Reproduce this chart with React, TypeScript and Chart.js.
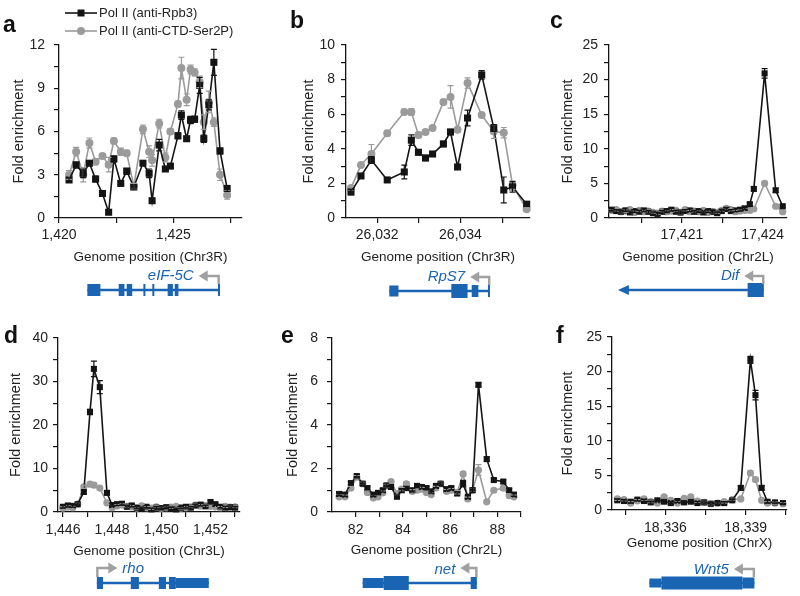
import React, { useEffect, useRef } from 'react';
import { Chart, registerables } from 'chart.js';
Chart.register(...registerables);

const FONT = '"Liberation Sans", Arial, Helvetica, sans-serif';
const BLACK = '#141414';
const GRAY = '#9b9b9b';
const BLUE = '#1a64b4';
const ARROW = '#a0a0a0';

// ---------- panel a (eIF-5C, Chr3R) ----------
const A_POS = [1420.44, 1420.75, 1421.06, 1421.33, 1421.6, 1421.9, 1422.17, 1422.4, 1422.7, 1422.96, 1423.27, 1423.67, 1423.94, 1424.07, 1424.38, 1424.65, 1424.87, 1425.2, 1425.35, 1425.58, 1425.75, 1425.93, 1426.15, 1426.33, 1426.55, 1426.77, 1427.04, 1427.35];
const A_RPB3 = [2.64, 3.68, 3.1, 3.8, 2.7, 1.7, 0.4, 4.1, 2.4, 3.25, 2.15, 3.8, 3.1, 1.2, 5.06, 3.4, 3.6, 5.7, 7.14, 5.5, 6.8, 6.85, 9.2, 5.5, 7.85, 10.8, 4.65, 2.05];
const A_SER2P = [2.98, 4.6, 3.0, 5.2, 3.9, 4.3, 3.7, 5.34, 4.6, 4.5, 2.2, 6.15, 4.6, 4.0, 6.55, 4.2, 6.0, 7.9, 10.4, 8.2, 10.3, 10.1, 9.45, 6.65, 8.05, 6.65, 3.0, 1.6];
const A_RPB3_ERR = [0.15, 0.2, 0.3, 0.15, 0.2, 0.15, 0.1, 0.2, 0.15, 0.2, 0.15, 0.15, 0.3, 0.1, 0.4, 0.15, 0.15, 0.2, 0.3, 0.15, 0.25, 0.2, 0.55, 0.25, 0.35, 0.9, 0.2, 0.2];
const A_SER2P_ERR = [0.3, 0.3, 0.5, 0.35, 0.2, 0.15, 0.5, 0.2, 0.25, 0.2, 0.2, 0.3, 0.4, 0.4, 0.3, 0.3, 0.2, 0.2, 0.75, 0.4, 0.3, 0.25, 0.4, 0.5, 0.75, 0.3, 0.4, 0.3];
const A_XTICKS = [1420, 1422.5, 1425, 1427.5];
const A_XLABELS = [1420, 1425];
const A_YTICKS = [0, 1.5, 3, 4.5, 6, 7.5, 9, 10.5, 12];
const A_YLABELS = [0, 3, 6, 9, 12];
const A_EXONS = [[1421.24, 1421.81, 12], [1422.61, 1422.86, 12], [1422.96, 1423.2, 12], [1423.69, 1423.77, 12], [1424.08, 1424.15, 12], [1424.75, 1424.98, 12], [1425.06, 1425.22, 12], [1426.95, 1427.0, 12]];

// ---------- panel b (RpS7, Chr3R) ----------
const B_POS = [26031.37, 26031.61, 26031.86, 26032.24, 26032.65, 26032.82, 26032.99, 26033.16, 26033.33, 26033.59, 26033.76, 26033.93, 26034.17, 26034.51, 26034.8, 26035.04, 26035.25, 26035.59];
const B_RPB3 = [1.5, 2.43, 3.35, 2.2, 2.66, 4.5, 3.8, 3.47, 3.7, 4.28, 4.97, 2.95, 5.78, 8.27, 5.2, 1.62, 1.8, 0.8];
const B_SER2P = [1.73, 3.06, 3.7, 4.9, 6.13, 6.13, 4.8, 4.97, 5.2, 6.7, 7.0, 5.1, 7.8, 5.95, 5.0, 4.93, 1.9, 0.5];
const B_RPB3_ERR = [0.15, 0.1, 0.2, 0.1, 0.4, 0.3, 0.15, 0.15, 0.1, 0.15, 0.15, 0.1, 0.45, 0.25, 0.2, 0.75, 0.3, 0.1];
const B_SER2P_ERR = [0.1, 0.1, 0.55, 0.15, 0.15, 0.2, 0.15, 0.1, 0.1, 0.15, 0.65, 0.15, 0.3, 0.1, 0.4, 0.3, 0.25, 0.1];
const B_XTICKS = [26032, 26033, 26034, 26035];
const B_XLABELS = [26032, 26034];
const B_YTICKS = [0, 1, 2, 3, 4, 5, 6, 7, 8, 9, 10];
const B_YLABELS = [0, 2, 4, 6, 8, 10];
const B_EXONS = [[26032.29, 26032.51, 11], [26033.78, 26034.17, 14], [26034.27, 26034.43, 12], [26034.66, 26034.7, 12]];

// ---------- panel c (Dif, Chr2L) ----------
const C_POS = [17418.4, 17418.57, 17418.74, 17418.91, 17419.08, 17419.25, 17419.42, 17419.59, 17419.76, 17419.93, 17420.1, 17420.27, 17420.44, 17420.61, 17420.78, 17420.95, 17421.12, 17421.29, 17421.46, 17421.63, 17421.8, 17421.97, 17422.14, 17422.31, 17422.48, 17422.65, 17422.82, 17422.99, 17423.16, 17423.33, 17423.52, 17423.67, 17424.07, 17424.48, 17424.74];
const C_RPB3 = [1.2, 1.0, 0.9, 1.1, 0.8, 1.0, 0.9, 1.1, 0.9, 0.7, 0.6, 0.9, 1.0, 1.2, 0.9, 0.8, 1.0, 1.1, 0.9, 1.0, 0.8, 1.0, 0.9, 0.7, 1.0, 1.3, 1.0, 1.1, 1.2, 1.4, 2.0, 4.2, 20.9, 4.0, 1.7];
const C_SER2P = [1.1, 1.2, 0.9, 1.0, 1.2, 0.8, 1.1, 0.9, 1.0, 0.8, 0.7, 1.0, 0.9, 1.0, 1.1, 0.8, 1.2, 0.9, 1.0, 0.9, 1.1, 0.8, 0.9, 0.8, 1.1, 1.4, 1.2, 0.9, 1.0, 1.1, 1.1, 1.3, 5.0, 1.7, 0.9];
const C_RPB3_ERR = [0.2, 0.2, 0.2, 0.2, 0.2, 0.2, 0.2, 0.2, 0.2, 0.2, 0.2, 0.2, 0.2, 0.2, 0.2, 0.2, 0.2, 0.2, 0.2, 0.2, 0.2, 0.2, 0.2, 0.2, 0.2, 0.2, 0.2, 0.2, 0.2, 0.2, 0.2, 0.3, 0.7, 0.3, 0.2];
const C_SER2P_ERR = [0.2, 0.2, 0.2, 0.2, 0.2, 0.2, 0.2, 0.2, 0.2, 0.2, 0.2, 0.2, 0.2, 0.2, 0.2, 0.2, 0.2, 0.2, 0.2, 0.2, 0.2, 0.2, 0.2, 0.2, 0.2, 0.2, 0.2, 0.2, 0.2, 0.2, 0.2, 0.2, 0.3, 0.2, 0.2];
const C_XTICKS = [17419.5, 17421, 17422.5, 17424];
const C_XLABELS = [17421, 17424];
const C_YTICKS = [0, 2.5, 5, 7.5, 10, 12.5, 15, 17.5, 20, 22.5, 25];
const C_YLABELS = [0, 5, 10, 15, 20, 25];
const C_EXONS = [[17423.44, 17424.04, 14]];

// ---------- panel d (rho, Chr3L) ----------
const D_POS = [1446.0, 1446.2, 1446.4, 1446.6, 1446.85, 1447.1, 1447.26, 1447.5, 1447.79, 1448.0, 1448.2, 1448.4, 1448.6, 1448.8, 1449.0, 1449.2, 1449.4, 1449.6, 1449.8, 1450.0, 1450.2, 1450.4, 1450.6, 1450.8, 1451.0, 1451.2, 1451.4, 1451.6, 1451.8, 1452.0, 1452.2, 1452.4, 1452.6, 1452.8, 1453.0];
const D_RPB3 = [1.2, 1.5, 1.4, 1.8, 4.6, 23.0, 32.9, 28.7, 4.4, 1.6, 1.8, 1.9, 1.2, 1.5, 1.0, 0.8, 1.2, 0.6, 1.0, 0.9, 1.1, 0.8, 0.6, 1.0, 1.2, 1.0, 1.5, 1.7, 1.3, 2.3, 1.8, 1.2, 1.0, 1.1, 1.0];
const D_SER2P = [0.9, 1.1, 1.0, 1.8, 5.8, 6.4, 6.2, 5.5, 2.1, 1.0, 1.4, 1.6, 1.3, 1.2, 0.9, 1.4, 1.0, 0.9, 1.2, 0.8, 1.0, 1.1, 1.3, 0.9, 1.0, 1.2, 1.6, 1.4, 1.5, 1.3, 1.2, 1.0, 1.3, 1.1, 1.2];
const D_RPB3_ERR = [0.3, 0.3, 0.3, 0.3, 0.4, 0.6, 1.8, 1.5, 0.4, 0.3, 0.3, 0.3, 0.3, 0.3, 0.3, 0.3, 0.3, 0.3, 0.3, 0.3, 0.3, 0.3, 0.3, 0.3, 0.3, 0.3, 0.3, 0.3, 0.3, 0.4, 0.3, 0.3, 0.3, 0.3, 0.3];
const D_SER2P_ERR = [0.3, 0.3, 0.3, 0.3, 0.4, 0.5, 0.5, 0.4, 0.3, 0.3, 0.3, 0.3, 0.3, 0.3, 0.3, 0.3, 0.3, 0.3, 0.3, 0.3, 0.3, 0.3, 0.3, 0.3, 0.3, 0.3, 0.3, 0.3, 0.3, 0.3, 0.3, 0.3, 0.3, 0.3, 0.3];
const D_XTICKS = [1446, 1447, 1448, 1449, 1450, 1451, 1452, 1453];
const D_XLABELS = [1446, 1448, 1450, 1452];
const D_YTICKS = [0, 5, 10, 15, 20, 25, 30, 35, 40];
const D_YLABELS = [0, 10, 20, 30, 40];
const D_EXONS = [[1447.38, 1447.63, 12], [1448.76, 1449.09, 12], [1449.9, 1450.19, 12], [1450.31, 1450.59, 12], [1450.59, 1451.93, 10]];

// ---------- panel e (net, Chr2L) ----------
const E_POS = [81.3, 81.55, 81.8, 82.05, 82.3, 82.5, 82.75, 82.95, 83.15, 83.3, 83.5, 83.75, 83.95, 84.15, 84.4, 84.6, 84.8, 85.0, 85.2, 85.4, 85.6, 85.85, 86.05, 86.3, 86.55, 86.75, 86.95, 87.2, 87.55, 87.85, 88.25, 88.5, 88.7];
const E_RPB3 = [0.83, 0.8, 1.33, 1.65, 1.3, 1.1, 0.8, 0.88, 1.0, 1.22, 1.15, 0.7, 1.0, 1.1, 1.0, 1.2, 1.15, 1.1, 0.95, 1.2, 1.3, 1.05, 1.1, 0.85, 1.3, 0.7, 1.0, 5.85, 2.43, 1.47, 1.4, 1.0, 0.8];
const E_SER2P = [0.7, 0.7, 1.1, 1.6, 1.3, 0.9, 0.65, 0.7, 0.88, 1.2, 1.4, 0.85, 1.05, 1.3, 0.95, 1.0, 1.05, 0.9, 0.8, 1.1, 1.3, 0.95, 1.0, 0.9, 1.75, 0.6, 1.0, 1.93, 0.47, 1.0, 1.1, 0.75, 0.7];
const E_RPB3_ERR = [0.08, 0.08, 0.08, 0.08, 0.08, 0.08, 0.08, 0.08, 0.08, 0.08, 0.08, 0.08, 0.08, 0.08, 0.08, 0.08, 0.08, 0.08, 0.08, 0.08, 0.08, 0.08, 0.08, 0.08, 0.15, 0.08, 0.1, 0.1, 0.1, 0.08, 0.08, 0.08, 0.08];
const E_SER2P_ERR = [0.08, 0.08, 0.08, 0.08, 0.08, 0.08, 0.08, 0.08, 0.08, 0.08, 0.08, 0.08, 0.08, 0.08, 0.08, 0.08, 0.08, 0.08, 0.08, 0.08, 0.08, 0.08, 0.08, 0.08, 0.1, 0.08, 0.08, 0.25, 0.08, 0.08, 0.08, 0.08, 0.08];
const E_XTICKS = [82, 83, 84, 85, 86, 87, 88, 89];
const E_XLABELS = [82, 84, 86, 88];
const E_YTICKS = [0, 1, 2, 3, 4, 5, 6, 7, 8];
const E_YLABELS = [0, 2, 4, 6, 8];
const E_EXONS = [[82.3, 83.19, 10], [83.19, 84.25, 14], [86.87, 87.13, 12]];

// ---------- panel f (Wnt5, ChrX) ----------
const F_POS = [18334.2, 18334.45, 18334.7, 18334.95, 18335.2, 18335.45, 18335.7, 18335.95, 18336.2, 18336.45, 18336.7, 18336.95, 18337.2, 18337.45, 18337.7, 18337.95, 18338.2, 18338.5, 18338.82, 18339.18, 18339.37, 18339.6, 18339.82, 18340.1, 18340.4];
const F_RPB3 = [1.4, 1.3, 1.2, 1.5, 1.3, 1.1, 1.4, 1.2, 1.0, 1.3, 1.1, 1.2, 1.0, 1.1, 0.9, 1.0, 1.0, 1.4, 3.2, 21.7, 16.6, 3.2, 1.2, 1.1, 1.0];
const F_SER2P = [1.6, 1.5, 1.0, 1.3, 1.6, 1.2, 1.0, 1.9, 1.4, 1.0, 1.7, 1.9, 1.3, 1.1, 0.9, 1.0, 1.2, 1.5, 1.6, 5.35, 4.4, 1.4, 1.0, 1.0, 0.9];
const F_RPB3_ERR = [0.2, 0.2, 0.2, 0.2, 0.2, 0.2, 0.2, 0.2, 0.2, 0.2, 0.2, 0.2, 0.2, 0.2, 0.2, 0.2, 0.2, 0.2, 0.3, 0.5, 0.7, 0.3, 0.2, 0.2, 0.2];
const F_SER2P_ERR = [0.2, 0.2, 0.2, 0.2, 0.2, 0.2, 0.2, 0.2, 0.2, 0.2, 0.2, 0.2, 0.2, 0.2, 0.2, 0.2, 0.2, 0.2, 0.2, 0.3, 0.3, 0.2, 0.2, 0.2, 0.2];
const F_XTICKS = [18334.5, 18336, 18337.5, 18339, 18340.5];
const F_XLABELS = [18336, 18339];
const F_YTICKS = [0, 2.5, 5, 7.5, 10, 12.5, 15, 17.5, 20, 22.5, 25];
const F_YLABELS = [0, 5, 10, 15, 20, 25];
const F_EXONS = [[18335.4, 18335.85, 9], [18335.85, 18338.88, 13], [18338.88, 18339.33, 11]];

const SERIES_NAMES = ['Pol II (anti-Rpb3)', 'Pol II (anti-CTD-Ser2P)'];

type Gene = {
  name: string; span: number[]; exons: number[][]; tss: number; dir: number;
  lineY: number; labelY: number; arrowTop: number; arrowLen: number; lineArrow?: boolean;
};

const PANELS: any[] = [
  {
    letter: 'a', lx: 3, ly: 32, legend: true,
    canvas: { left: 0, top: 0, w: 265, h: 300 }, area: { l: 59, r: 242, t: 45, b: 218 },
    yW: 48.5, xH: 47, yPad: 9, xPad: 4, xMin: 1420, xMax: 1428, yMax: 12,
    xTicks: A_XTICKS, xLabels: A_XLABELS, yTicks: A_YTICKS, yLabels: A_YLABELS, chr: 'Chr3R',
    pos: A_POS, s1: A_RPB3, s2: A_SER2P, e1: A_RPB3_ERR, e2: A_SER2P_ERR, sq: 5, ci: 4,
    gene: { name: 'eIF-5C', span: [1421.24, 1427.0], exons: A_EXONS, tss: 1426.98, dir: -1, lineY: 290, labelY: 276, arrowTop: 276, arrowLen: 20 },
  },
  {
    letter: 'b', lx: 290, ly: 28,
    canvas: { left: 265, top: 0, w: 270, h: 300 }, area: { l: 346, r: 530, t: 45, b: 218 },
    yW: 45.5, xH: 47, yPad: 6, xPad: 4, xMin: 26031.25, xMax: 26035.67, yMax: 10,
    xTicks: B_XTICKS, xLabels: B_XLABELS, yTicks: B_YTICKS, yLabels: B_YLABELS, chr: 'Chr3R',
    pos: B_POS, s1: B_RPB3, s2: B_SER2P, e1: B_RPB3_ERR, e2: B_SER2P_ERR, sq: 5, ci: 4,
    gene: { name: 'RpS7', span: [26032.29, 26034.7], exons: B_EXONS, tss: 26034.69, dir: -1, lineY: 291, labelY: 277, arrowTop: 277, arrowLen: 19 },
  },
  {
    letter: 'c', lx: 550, ly: 28,
    canvas: { left: 535, top: 0, w: 265, h: 300 }, area: { l: 609, r: 787, t: 45, b: 218 },
    yW: 50, xH: 47, yPad: 6, xPad: 4, xMin: 17418.3, xMax: 17424.9, yMax: 25,
    xTicks: C_XTICKS, xLabels: C_XLABELS, yTicks: C_YTICKS, yLabels: C_YLABELS, chr: 'Chr2L',
    pos: C_POS, s1: C_RPB3, s2: C_SER2P, e1: C_RPB3_ERR, e2: C_SER2P_ERR, sq: 4.3, ci: 3.6,
    gene: { name: 'Dif', span: [17418.63, 17424.04], exons: C_EXONS, tss: 17424.02, dir: -1, lineY: 290, labelY: 276, arrowTop: 276, arrowLen: 19, lineArrow: true },
  },
  {
    letter: 'd', lx: 4, ly: 343,
    canvas: { left: 0, top: 300, w: 265, h: 296 }, area: { l: 58, r: 240, t: 338, b: 512 },
    yW: 50.5, xH: 47, yPad: 5, xPad: 4.5, xMin: 1445.8, xMax: 1453.2, yMax: 40,
    xTicks: D_XTICKS, xLabels: D_XLABELS, yTicks: D_YTICKS, yLabels: D_YLABELS, chr: 'Chr3L',
    pos: D_POS, s1: D_RPB3, s2: D_SER2P, e1: D_RPB3_ERR, e2: D_SER2P_ERR, sq: 4.3, ci: 3.6,
    gene: { name: 'rho', span: [1447.38, 1451.93], exons: D_EXONS, tss: 1447.4, dir: 1, lineY: 583, labelY: 569, arrowTop: 568, arrowLen: 20 },
  },
  {
    letter: 'e', lx: 281, ly: 343,
    canvas: { left: 265, top: 300, w: 270, h: 296 }, area: { l: 332, r: 521, t: 338, b: 512 },
    yW: 48, xH: 46, yPad: 9, xPad: 4.5, xMin: 81, xMax: 89, yMax: 8,
    xTicks: E_XTICKS, xLabels: E_XLABELS, yTicks: E_YTICKS, yLabels: E_YLABELS, chr: 'Chr2L',
    pos: E_POS, s1: E_RPB3, s2: E_SER2P, e1: E_RPB3_ERR, e2: E_SER2P_ERR, sq: 4.3, ci: 3.6,
    gene: { name: 'net', span: [82.3, 87.13], exons: E_EXONS, tss: 87.11, dir: -1, lineY: 583, labelY: 570, arrowTop: 568, arrowLen: 16 },
  },
  {
    letter: 'f', lx: 556, ly: 343,
    canvas: { left: 535, top: 300, w: 265, h: 296 }, area: { l: 612, r: 787, t: 337, b: 510 },
    yW: 53, xH: 41, yPad: 5, xPad: 4.5, xMin: 18334, xMax: 18340.55, yMax: 25,
    xTicks: F_XTICKS, xLabels: F_XLABELS, yTicks: F_YTICKS, yLabels: F_YLABELS, chr: 'ChrX',
    pos: F_POS, s1: F_RPB3, s2: F_SER2P, e1: F_RPB3_ERR, e2: F_SER2P_ERR, sq: 4.3, ci: 3.6,
    gene: { name: 'Wnt5', span: [18335.4, 18339.33], exons: F_EXONS, tss: 18339.31, dir: -1, lineY: 583, labelY: 570, arrowTop: 569, arrowLen: 20 },
  },
];

const hasVal = (arr: number[], v: number) => arr.some((a) => Math.abs(a - v) < 1e-6);

function drawGene(ctx: CanvasRenderingContext2D, xs: any, g: Gene, top: number) {
  const px = (v: number) => xs.getPixelForValue(v);
  const ly = g.lineY - top;
  ctx.save();
  ctx.strokeStyle = BLUE;
  ctx.fillStyle = BLUE;
  ctx.lineWidth = 2.5;
  const x0 = px(g.span[0]);
  const x1 = px(g.span[1]);
  ctx.beginPath();
  ctx.moveTo(g.lineArrow ? x0 + 6 : x0, ly);
  ctx.lineTo(x1, ly);
  ctx.stroke();
  if (g.lineArrow) {
    ctx.beginPath();
    ctx.moveTo(x0, ly);
    ctx.lineTo(x0 + 11, ly - 5);
    ctx.lineTo(x0 + 11, ly + 5);
    ctx.closePath();
    ctx.fill();
  }
  for (const [s, e, h] of g.exons) {
    const a = px(s);
    const b = px(e);
    ctx.fillRect(a, ly - h / 2, Math.max(b - a, 2), h);
  }
  // TSS arrow
  const tx = px(g.tss);
  const at = g.arrowTop - top;
  const dir = g.dir;
  const tip = tx + dir * g.arrowLen;
  ctx.strokeStyle = ARROW;
  ctx.fillStyle = ARROW;
  ctx.lineWidth = 2.4;
  ctx.beginPath();
  ctx.moveTo(tx, ly - 6);
  ctx.lineTo(tx, at);
  ctx.lineTo(tip - dir * 6, at);
  ctx.stroke();
  ctx.beginPath();
  ctx.moveTo(tip, at);
  ctx.lineTo(tip - dir * 9, at - 5.5);
  ctx.lineTo(tip - dir * 9, at + 5.5);
  ctx.closePath();
  ctx.fill();
  // gene name
  ctx.font = `italic 15px ${FONT}`;
  ctx.fillStyle = BLUE;
  ctx.textBaseline = 'middle';
  ctx.textAlign = dir < 0 ? 'right' : 'left';
  ctx.fillText(g.name, tip + dir * 5, g.labelY - top);
  ctx.restore();
}

function drawLegend(ctx: CanvasRenderingContext2D) {
  ctx.save();
  ctx.font = `13px ${FONT}`;
  ctx.textBaseline = 'middle';
  ctx.textAlign = 'left';
  // black
  ctx.strokeStyle = BLACK;
  ctx.fillStyle = BLACK;
  ctx.lineWidth = 1.6;
  ctx.beginPath();
  ctx.moveTo(65, 13);
  ctx.lineTo(97, 13);
  ctx.stroke();
  ctx.fillRect(81 - 3.5, 13 - 3.5, 7, 7);
  ctx.fillStyle = '#222';
  ctx.fillText(SERIES_NAMES[0], 99, 13.5);
  // gray
  ctx.strokeStyle = GRAY;
  ctx.fillStyle = GRAY;
  ctx.beginPath();
  ctx.moveTo(65, 31);
  ctx.lineTo(97, 31);
  ctx.stroke();
  ctx.beginPath();
  ctx.arc(81, 31, 4, 0, Math.PI * 2);
  ctx.fill();
  ctx.fillStyle = '#222';
  ctx.fillText(SERIES_NAMES[1], 99, 31.5);
  ctx.restore();
}

const extrasPlugin = {
  id: 'extras',
  afterDatasetsDraw(chart: any) {
    const ctx = chart.ctx;
    const ys = chart.scales.y;
    for (let i = chart.data.datasets.length - 1; i >= 0; i--) {
      const ds = chart.data.datasets[i];
      const meta = chart.getDatasetMeta(i);
      const errs: number[] = ds.errors || [];
      ctx.save();
      ctx.strokeStyle = ds.borderColor;
      ctx.lineWidth = 1.2;
      meta.data.forEach((pt: any, j: number) => {
        const e = errs[j];
        if (!e) return;
        const v = ds.data[j].y;
        const yTop = ys.getPixelForValue(v + e);
        const yBot = ys.getPixelForValue(Math.max(v - e, 0));
        ctx.beginPath();
        ctx.moveTo(pt.x, yTop);
        ctx.lineTo(pt.x, yBot);
        ctx.moveTo(pt.x - 3, yTop);
        ctx.lineTo(pt.x + 3, yTop);
        ctx.moveTo(pt.x - 3, yBot);
        ctx.lineTo(pt.x + 3, yBot);
        ctx.stroke();
      });
      ctx.restore();
    }
  },
  afterDraw(chart: any) {
    const cfg = chart.options.plugins.extras.cfg;
    const ctx = chart.ctx;
    drawGene(ctx, chart.scales.x, cfg.gene, cfg.canvas.top);
    ctx.save();
    ctx.font = `bold 23px ${FONT}`;
    ctx.fillStyle = '#111';
    ctx.textBaseline = 'alphabetic';
    ctx.textAlign = 'left';
    ctx.fillText(cfg.letter, cfg.lx - cfg.canvas.left, cfg.ly - cfg.canvas.top);
    ctx.restore();
    if (cfg.legend) drawLegend(ctx);
  },
};

function Panel({ cfg }: { cfg: any }) {
  const ref = useRef<HTMLCanvasElement | null>(null);
  useEffect(() => {
    if (!ref.current) return;
    const c = cfg.canvas;
    const a = cfg.area;
    const padding = {
      left: a.l - c.left - cfg.yW,
      right: c.left + c.w - a.r,
      top: a.t - c.top,
      bottom: c.top + c.h - a.b - cfg.xH,
    };
    const fmt = (v: number) => v.toLocaleString('en-US');
    const chart = new Chart(ref.current, {
      type: 'line',
      data: {
        datasets: [
          {
            label: SERIES_NAMES[0],
            data: cfg.pos.map((x: number, i: number) => ({ x, y: cfg.s1[i] })),
            borderColor: BLACK,
            backgroundColor: BLACK,
            pointBorderColor: BLACK,
            pointBackgroundColor: BLACK,
            pointStyle: 'rect',
            pointRadius: cfg.sq,
            pointBorderWidth: 0,
            borderWidth: 1.6,
            tension: 0,
            clip: false,
            errors: cfg.e1,
          } as any,
          {
            label: SERIES_NAMES[1],
            data: cfg.pos.map((x: number, i: number) => ({ x, y: cfg.s2[i] })),
            borderColor: GRAY,
            backgroundColor: GRAY,
            pointBorderColor: GRAY,
            pointBackgroundColor: GRAY,
            pointStyle: 'circle',
            pointRadius: cfg.ci,
            pointBorderWidth: 0,
            borderWidth: 1.6,
            tension: 0,
            clip: false,
            errors: cfg.e2,
          } as any,
        ],
      },
      options: {
        animation: false,
        responsive: false,
        devicePixelRatio: 1,
        layout: { padding },
        plugins: {
          legend: { display: false },
          tooltip: { enabled: false },
          extras: { cfg },
        } as any,
        scales: {
          x: {
            type: 'linear',
            min: cfg.xMin,
            max: cfg.xMax,
            afterBuildTicks: (s: any) => {
              s.ticks = cfg.xTicks.map((v: number) => ({ value: v }));
            },
            afterFit: (s: any) => {
              s.height = cfg.xH;
            },
            ticks: {
              autoSkip: false,
              maxRotation: 0,
              minRotation: 0,
              padding: cfg.xPad,
              color: '#222',
              font: { family: FONT, size: 14 },
              callback: (v: any) => (hasVal(cfg.xLabels, Number(v)) ? fmt(Number(v)) : ''),
            },
            grid: { drawOnChartArea: false, drawTicks: true, tickLength: 5, color: BLACK, lineWidth: 1.2 },
            border: { display: true, color: BLACK, width: 1.3 },
            title: {
              display: true,
              text: `Genome position (${cfg.chr})`,
              color: '#222',
              font: { family: FONT, size: 13.5 },
              padding: { top: 0, bottom: 0 },
            },
          },
          y: {
            type: 'linear',
            min: 0,
            max: cfg.yMax,
            afterBuildTicks: (s: any) => {
              s.ticks = cfg.yTicks.map((v: number) => ({ value: v }));
            },
            afterFit: (s: any) => {
              s.width = cfg.yW;
            },
            ticks: {
              autoSkip: false,
              padding: cfg.yPad,
              color: '#222',
              font: { family: FONT, size: 14 },
              callback: (v: any) => (hasVal(cfg.yLabels, Number(v)) ? fmt(Number(v)) : ''),
            },
            grid: { drawOnChartArea: false, drawTicks: true, tickLength: 5, color: BLACK, lineWidth: 1.2 },
            border: { display: true, color: BLACK, width: 1.3 },
            title: {
              display: true,
              text: 'Fold enrichment',
              color: '#222',
              font: { family: FONT, size: 14.5 },
              padding: { top: 0, bottom: 0 },
            },
          },
        },
      } as any,
      plugins: [extrasPlugin as any],
    });
    return () => chart.destroy();
  }, [cfg]);
  const c = cfg.canvas;
  return (
    <canvas
      ref={ref}
      width={c.w}
      height={c.h}
      style={{ position: 'absolute', left: c.left, top: c.top, width: c.w, height: c.h }}
    />
  );
}

export default function App() {
  return (
    <div style={{ position: 'fixed', left: 0, top: 0, width: 800, height: 596, background: '#ffffff', overflow: 'hidden' }}>
      {PANELS.map((p) => (
        <Panel key={p.letter} cfg={p} />
      ))}
    </div>
  );
}
